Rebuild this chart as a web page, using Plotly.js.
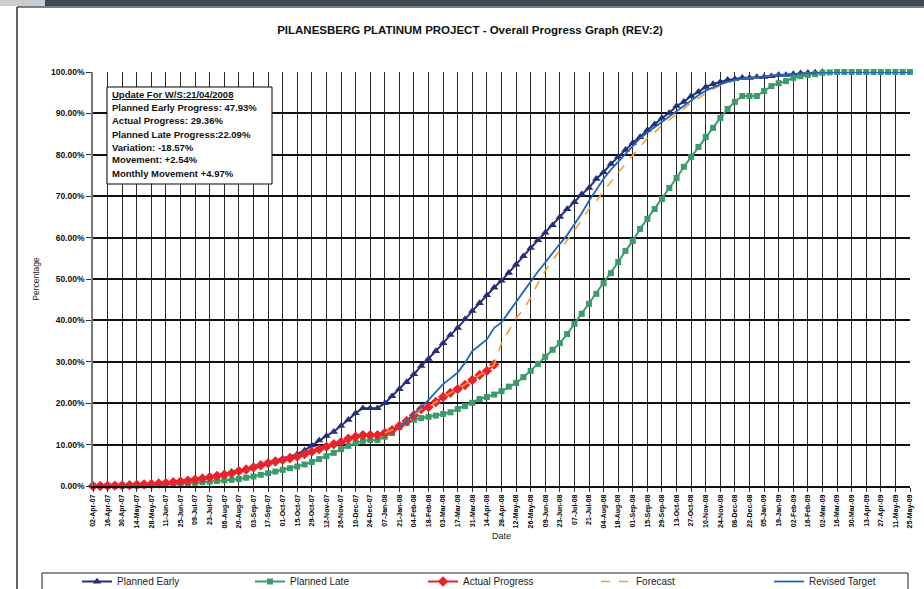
<!DOCTYPE html>
<html><head><meta charset="utf-8">
<script src="https://cdn.plot.ly/plotly-3.0.1.min.js"></script>
<style>html,body{margin:0;padding:0;background:#fff}#chart{width:924px;height:589px}</style>
</head><body><div id="chart"></div>
<script>
// ---- DATA ----
const startDate = [2007, 3, 2];   // W/S 02-Apr-2007 (week 0)
const lastWeek = 112;
const seriesNames = ['Planned Early', 'Planned Late', 'Actual Progress', 'Forecast', 'Revised Target'];

// Planned Early, weeks 0..100 (%)
const plannedEarly = [0,0,0.05,0.1,0.15,0.25,0.35,0.45,0.55,0.65,
0.8,1.0,1.2,1.45,1.7,2.0,2.3,2.6,2.9,3.3,
3.8,4.2,4.7,5.2,5.7,6.1,6.6,7.1,7.7,8.6,
9.8,11.0,12.1,13.1,14.5,16.0,17.6,18.8,18.8,18.8,
20.0,21.7,23.4,25.1,27.0,29.0,30.7,32.6,34.5,36.5,
38.2,40.3,42.3,44.2,46.1,47.93,49.6,51.5,53.5,55.5,
57.5,59.4,61.2,63.0,65.0,66.9,68.6,70.5,72.0,74.2,
75.8,77.8,79.5,81.2,82.9,84.3,86.0,87.4,88.9,90.1,
91.8,92.8,94.2,95.2,96.4,97.1,97.6,98.1,98.3,98.6,
98.6,98.8,98.8,99.0,99.3,99.3,99.5,99.7,99.8,99.9,
100];
const plannedEarlyStart = 0;

// Planned Late, weeks 0..112 (%)
const plannedLate = [0,0,0,0.02,0.05,0.08,0.1,0.15,0.2,0.25,
0.3,0.4,0.5,0.6,0.75,0.9,1.05,1.2,1.35,1.5,
1.7,2.0,2.3,2.7,3.1,3.5,3.9,4.3,4.7,5.2,
5.8,6.5,7.2,8.0,8.9,9.7,10.4,10.9,11.1,11.1,
11.9,12.8,14.3,15.2,16.0,16.4,16.7,17.0,17.4,17.8,
18.6,19.3,20.1,21.0,21.5,22.09,22.9,24.0,24.9,26.3,
27.8,29.5,31.2,32.9,34.5,36.7,39.2,41.6,44.0,46.4,
49.0,51.4,54.1,56.8,59.2,62.1,64.5,66.9,69.3,72.0,
74.4,77.1,79.5,81.9,84.3,86.5,88.9,91.1,92.8,94.2,
94.2,94.2,95.4,96.6,97.3,97.8,98.6,99.0,99.3,99.5,
99.8,99.9,100,100,100,100,100,100,100,100,
100,100,100];
const plannedLateStart = 0;

// Actual Progress, weeks 0..55 (%)
const actualProgress = [0,0,0.05,0.1,0.15,0.2,0.3,0.4,0.5,0.6,
0.7,0.9,1.1,1.3,1.5,1.8,2.1,2.4,2.7,3.1,
3.6,4.0,4.5,5.0,5.5,5.9,6.3,6.7,7.1,7.7,
8.3,8.9,9.5,10.1,10.6,11.4,11.9,12.3,12.3,12.3,
12.8,13.5,14.5,15.7,17.1,18.6,19.1,20.3,21.5,22.5,
23.4,24.4,25.6,26.8,27.8,29.36];
const actualStart = 0;

// Forecast, weeks 40..112 (%)
const forecast = [12.8,13.5,14.5,15.7,17.1,18.6,19.1,20.3,21.5,22.5,23.4,24.4,25.6,26.8,27.8,29.36,
34.5,37.5,40.5,42.6,45.5,49.0,52.0,54.5,56.9,59.5,
61.8,64.2,67.0,68.9,71.2,73.5,75.7,77.8,80.0,82.0,
84.0,85.4,87.1,88.5,89.9,91.3,92.5,93.7,94.9,95.9,
96.7,97.4,98.0,98.4,98.6,98.8,99.0,99.2,99.3,99.4,
99.5,99.7,99.8,99.9,100,100,100,100,100,100,
100,100,100,100,100,100,100];
const forecastStart = 40;

// Revised Target, weeks 42..112 (%)
const revisedTarget = [14.5,15.7,17.6,19.0,20.8,22.6,24.6,26.0,27.4,29.8,
32.6,34.0,35.4,38.2,39.5,42.0,44.5,46.8,49.3,51.8,
54.0,56.4,58.5,60.6,63.2,65.9,68.9,71.7,74.2,76.4,
78.3,80.2,82.1,84.0,85.4,86.7,88.0,89.3,90.6,92.0,
93.3,94.4,95.5,96.3,97.0,97.6,98.1,98.4,98.6,98.8,
99.0,99.2,99.3,99.4,99.5,99.7,99.8,99.9,100,100,
100,100,100,100,100,100,100,100,100,100,100];
const revisedStart = 42;

const infoLines = ['Update For W/S:21/04/2008', 'Planned Early Progress: 47.93%', 'Actual Progress: 29.36%',
  'Planned Late Progress:22.09%', 'Variation: -18.57%', 'Movement: +2.54%', 'Monthly Movement +4.97%'];

// ---- HELPERS ----
const DAY = 86400000;
const t0 = Date.UTC(startDate[0], startDate[1], startDate[2]);
function weekDate(i) { return new Date(t0 + i * 7 * DAY).toISOString().slice(0, 10); }
function xs(start, arr) { return arr.map((_, k) => weekDate(start + k)); }

// layout geometry (pixels)
const W = 924, H = 589, L = 93, R = 910, T = 72, B = 486;
const px2x = p => (p - L) / (R - L);
const py2y = p => (B - p) / (B - T);
const FONT = 'Liberation Sans, Arial, sans-serif';

const traces = [
  {name: seriesNames[0], x: xs(plannedEarlyStart, plannedEarly), y: plannedEarly, mode: 'lines+markers',
   line: {color: '#252F78', width: 2}, marker: {symbol: 'triangle-up', size: 7.5, color: '#252F78'}},
  {name: seriesNames[1], x: xs(plannedLateStart, plannedLate), y: plannedLate, mode: 'lines+markers',
   line: {color: '#3C9B6A', width: 2}, marker: {symbol: 'square', size: 6, color: '#3C9B6A'}},
  {name: seriesNames[2], x: xs(actualStart, actualProgress), y: actualProgress, mode: 'lines+markers',
   line: {color: '#E8242B', width: 2}, marker: {symbol: 'diamond', size: 8, color: '#E8242B'}},
  {name: seriesNames[3], x: xs(forecastStart, forecast), y: forecast, mode: 'lines',
   line: {color: '#F5A030', width: 1.6, dash: 'dash'}},
  {name: seriesNames[4], x: xs(revisedStart, revisedTarget), y: revisedTarget, mode: 'lines',
   line: {color: '#1F67BA', width: 1.8}}
].map(t => Object.assign(t, {type: 'scatter', cliponaxis: false, hoverinfo: 'x+y+name'}));

const shapes = [
  // top dark band & outer frame
  {type: 'rect', xref: 'paper', yref: 'paper', x0: px2x(0), x1: px2x(45), y0: py2y(6), y1: py2y(0),
   fillcolor: '#c9ced3', line: {width: 0}},
  {type: 'rect', xref: 'paper', yref: 'paper', x0: px2x(45), x1: px2x(W), y0: py2y(6), y1: py2y(0),
   fillcolor: '#3f4952', line: {width: 0}},
  {type: 'line', xref: 'paper', yref: 'paper', x0: px2x(17), x1: px2x(W), y0: py2y(7), y1: py2y(7),
   line: {color: '#000', width: 1.2}},
  {type: 'line', xref: 'paper', yref: 'paper', x0: px2x(17), x1: px2x(17), y0: py2y(7), y1: py2y(H),
   line: {color: '#000', width: 1.2}},
  // info box
  {type: 'rect', xref: 'paper', yref: 'paper', x0: px2x(107), x1: px2x(272), y0: py2y(184), y1: py2y(87),
   fillcolor: '#fff', line: {color: '#000', width: 1}},
  // legend box
  {type: 'rect', xref: 'paper', yref: 'paper', x0: px2x(42), x1: px2x(908), y0: py2y(600), y1: py2y(573),
   fillcolor: 'rgba(0,0,0,0)', line: {color: '#222', width: 1}}
];

const lineY = [94, 107.5, 121, 134, 147, 160, 173.5];
const annotations = infoLines.map((s, k) => ({
  xref: 'paper', yref: 'paper', x: px2x(110), y: py2y(lineY[k]), xanchor: 'left', yanchor: 'middle',
  text: k === 0 ? '<u>' + s + '</u>' : s, showarrow: false,
  font: {family: FONT, size: 9.5, color: '#111', weight: 700}
}));

const layout = {
  width: W, height: H,
  margin: {l: L, r: W - R, t: T, b: H - B, pad: 0, autoexpand: false},
  paper_bgcolor: '#fff', plot_bgcolor: '#fff',
  font: {family: FONT, color: '#111'},
  title: {text: 'PILANESBERG PLATINUM PROJECT - Overall Progress Graph (REV:2)', xref: 'container', yref: 'container',
          x: 470 / W, y: 1 - 30 / H, xanchor: 'center', yanchor: 'middle',
          font: {family: FONT, size: 11.5, color: '#111', weight: 700}},
  showlegend: true,
  legend: {orientation: 'h', x: px2x(77), y: py2y(567), xanchor: 'left', yanchor: 'top',
           font: {family: FONT, size: 10, color: '#222'}, entrywidth: 128, entrywidthmode: 'pixels',
           bgcolor: 'rgba(0,0,0,0)', borderwidth: 0, traceorder: 'normal', itemwidth: 30},
  xaxis: {type: 'date', range: [weekDate(0), weekDate(lastWeek)], tick0: weekDate(0), dtick: 14 * DAY,
          tickformat: '%d-%b-%y', tickangle: -90, tickfont: {family: FONT, size: 7, color: '#000', weight: 700},
          showgrid: true, gridcolor: '#2a2a2a', gridwidth: 1, showline: true, linecolor: '#111', linewidth: 1.5,
          ticks: 'outside', ticklen: 4, tickcolor: '#333', zeroline: false, fixedrange: true, automargin: false,
          title: {text: 'Date', font: {family: FONT, size: 9, color: '#222'}, standoff: 5}},
  yaxis: {range: [0, 100], dtick: 10, tick0: 0, tickformat: '.2f', ticksuffix: '%',
          tickfont: {family: FONT, size: 8.5, color: '#111', weight: 700},
          showgrid: true, gridcolor: '#111', gridwidth: 1.8, showline: true, linecolor: '#777', linewidth: 1.5,
          ticks: 'outside', ticklen: 5, tickcolor: '#333', zeroline: false, fixedrange: true, automargin: false,
          title: {text: 'Percentage', font: {family: FONT, size: 8.5, color: '#222'}, standoff: 10}},
  shapes: shapes,
  annotations: annotations
};

Plotly.newPlot('chart', traces, layout, {displayModeBar: false, staticPlot: false});
</script>
</body></html>
